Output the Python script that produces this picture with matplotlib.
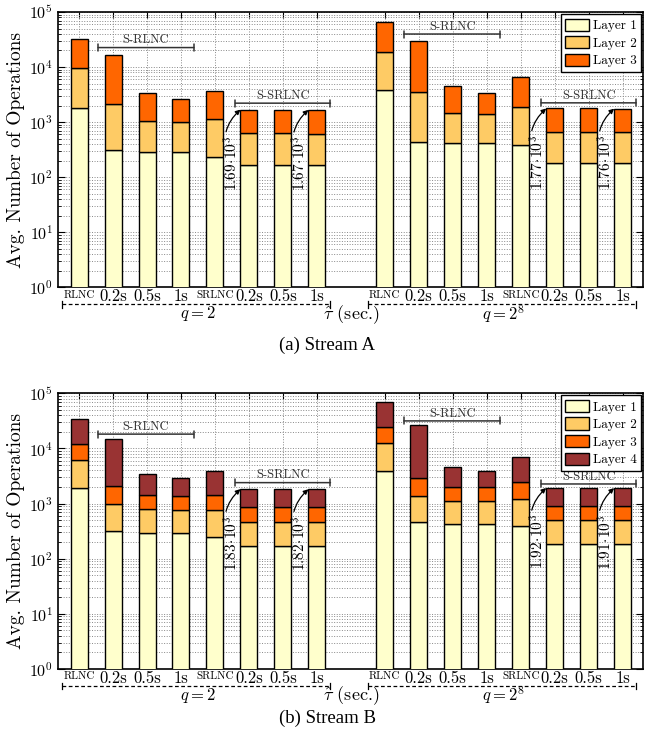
import numpy as np
import matplotlib
matplotlib.use('Agg')
import matplotlib.pyplot as plt
import matplotlib.transforms as mtransforms
from matplotlib.patches import Patch
from matplotlib.ticker import LogLocator, NullFormatter

plt.rcParams['font.family'] = 'cmr10'
plt.rcParams['mathtext.fontset'] = 'cm'
plt.rcParams['axes.formatter.use_mathtext'] = True

tick_labels = ['RLNC', '0.2s', '0.5s', '1s', 'SRLNC', '0.2s', '0.5s', '1s']
layer_names = ['Layer 1', 'Layer 2', 'Layer 3', 'Layer 4']
layer_colors = ['#ffffcc', '#fecb65', '#ff6600', '#993333']

# Stream A, operations per layer (stacked), q = 2
a_q2_l1 = [1840, 312, 291, 283, 236, 169, 169, 167]
a_q2_l2 = [7660, 1798, 749, 717, 884, 455, 455, 443]
a_q2_l3 = [23500, 14390, 2300, 1600, 2610, 1066, 1056, 1060]
# Stream A, q = 2^8
a_q8_l1 = [3790, 441, 417, 417, 379, 179, 179, 179]
a_q8_l2 = [14910, 3139, 1018, 983, 1486, 471, 471, 471]
a_q8_l3 = [47300, 26320, 3105, 1940, 4825, 1120, 1120, 1110]

# Stream B, q = 2
b_q2_l1 = [1920, 314, 297, 293, 244, 173, 173, 172]
b_q2_l2 = [4170, 656, 501, 483, 511, 297, 297, 298]
b_q2_l3 = [5810, 1090, 615, 617, 658, 385, 385, 385]
b_q2_l4 = [22300, 12590, 1987, 1477, 2487, 975, 975, 965]
# Stream B, q = 2^8
b_q8_l1 = [3900, 457, 427, 427, 392, 185, 185, 185]
b_q8_l2 = [8500, 898, 703, 673, 838, 320, 320, 320]
b_q8_l3 = [11800, 1595, 870, 870, 1200, 413, 413, 413]
b_q8_l4 = [44500, 23350, 2610, 1930, 4470, 1002, 1002, 992]

pos_q2 = np.arange(8)
pos_q8 = np.arange(8) + 9
bar_w = 0.5

# bracket spans per group
brackets_q2 = {'S-RLNC': (0.56, 3.38), 'S-SRLNC': (4.6, 7.4)}
brackets_q8 = {'S-RLNC': (9.56, 12.4), 'S-SRLNC': (13.6, 16.4)}


def draw_group(ax, pos, layers):
    bottom = np.zeros(len(pos))
    for i, vals in enumerate(layers):
        vals = np.array(vals, dtype=float)
        ax.bar(pos, vals, bar_w, bottom=bottom, color=layer_colors[i],
               edgecolor='black', linewidth=1.0, zorder=3)
        bottom = bottom + vals
    return bottom


def draw_panel(ax, q2_layers, q8_layers, bracket_y):
    tot_q2 = draw_group(ax, pos_q2, q2_layers)
    tot_q8 = draw_group(ax, pos_q8, q8_layers)
    n = len(q2_layers)

    ax.set_yscale('log')
    ax.set_ylim(1, 1e5)
    ax.set_xlim(-0.62, 16.6)
    ax.set_axisbelow(True)

    ax.set_xticks(np.concatenate([pos_q2, pos_q8]))
    ax.set_xticklabels([])
    ax.yaxis.set_major_locator(LogLocator(base=10, numticks=10))
    ax.yaxis.set_minor_locator(LogLocator(base=10, subs=np.arange(2, 10), numticks=20))
    ax.yaxis.set_minor_formatter(NullFormatter())
    ax.tick_params(axis='both', which='both', direction='in', top=True, right=True)
    ax.tick_params(axis='x', which='major', length=4, bottom=False)
    ax.tick_params(axis='y', which='major', length=5, labelsize=11.5)
    ax.tick_params(axis='y', which='minor', length=2.5)
    ax.grid(True, which='major', axis='both', color='#888888', ls=':', lw=0.7)
    ax.grid(True, which='minor', axis='y', color='#888888', ls=':', lw=0.7)
    for s in ax.spines.values():
        s.set_linewidth(1.2)

    ax.set_ylabel('Avg. Number of Operations', fontsize=14)
    ax.yaxis.set_label_coords(-0.056, 0.5)

    trans = mtransforms.blended_transform_factory(ax.transData, ax.transAxes)
    for pos in (pos_q2, pos_q8):
        for x, lab in zip(pos, tick_labels):
            if lab in ('RLNC', 'SRLNC'):
                ax.text(x, -0.027, lab, transform=trans, ha='center', va='center', fontsize=8)
            else:
                ax.text(x, -0.032, lab, transform=trans, ha='center', va='center', fontsize=12)

    # dashed group lines
    for x0, x1 in ((-0.5, 7.4), (8.5, 16.4)):
        ax.plot([x0, x1], [-0.062, -0.062], transform=trans, color='black',
                ls=(0, (3, 2)), lw=0.9, clip_on=False)
        for xe in (x0, x1):
            ax.plot([xe, xe], [-0.074, -0.05], transform=trans, color='black',
                    lw=0.9, clip_on=False)
    ax.text(3.5, -0.096, '$q = 2$', transform=trans, ha='center', va='center', fontsize=12)
    ax.text(12.5, -0.096, '$q = 2^8$', transform=trans, ha='center', va='center', fontsize=12)
    ax.text(8.0, -0.098, r'$\hat{\tau}$ (sec.)', transform=trans, ha='center', va='center', fontsize=13)

    # S-RLNC / S-SRLNC brackets
    for br, ys in ((brackets_q2, bracket_y[0]), (brackets_q8, bracket_y[1])):
        for (name, (x0, x1)), y in zip(br.items(), ys):
            ax.annotate('', xy=(x1, y), xytext=(x0, y),
                        arrowprops=dict(arrowstyle='|-|, widthA=0.25, widthB=0.25',
                                        color='#333333', lw=1.1, shrinkA=0, shrinkB=0))
            ax.text((x0 + x1) / 2, y * 1.05, name, ha='center', va='bottom',
                    fontsize=9, color='#333333')

    # value annotations on S-SRLNC 0.2s and 1s bars
    for pos, tot in ((pos_q2, tot_q2), (pos_q8, tot_q8)):
        for k in (5, 7):
            x = pos[k]
            label = r'$%.2f\!\cdot\!10^3$' % (tot[k] / 1000.0)
            ax.annotate(label, xy=(x - bar_w / 2, tot[k]), xytext=(x - 0.5, tot[k] / 9.5),
                        rotation=90, ha='center', va='center', fontsize=11,
                        arrowprops=dict(arrowstyle='-|>', color='black', lw=0.9,
                                        mutation_scale=7, shrinkA=1, shrinkB=0,
                                        connectionstyle='arc3,rad=-0.4'),
                        zorder=5)

    handles = [Patch(facecolor=layer_colors[i], edgecolor='black', linewidth=1.0,
                     label=layer_names[i]) for i in range(n)]
    leg = ax.legend(handles=handles, loc='upper right', fontsize=9.5, fancybox=False,
                    edgecolor='black', framealpha=1, borderaxespad=0.15,
                    handlelength=1.75, handleheight=1.05, labelspacing=0.3,
                    handletextpad=0.3, borderpad=0.35)
    leg.get_frame().set_linewidth(1.0)
    leg.set_zorder(6)


fig = plt.figure(figsize=(6.51, 7.36), dpi=100)
ax_a = fig.add_axes([0.0891, 0.6096, 0.8986, 0.3741])
ax_b = fig.add_axes([0.0891, 0.0910, 0.8986, 0.3746])

draw_panel(ax_a, [a_q2_l1, a_q2_l2, a_q2_l3], [a_q8_l1, a_q8_l2, a_q8_l3],
           bracket_y=((22600, 2210), (39800, 2240)))
draw_panel(ax_b, [b_q2_l1, b_q2_l2, b_q2_l3, b_q2_l4], [b_q8_l1, b_q8_l2, b_q8_l3, b_q8_l4],
           bracket_y=((18200, 2400), (31600, 2270)))

fig.text(0.503, 0.531, '(a) Stream A', ha='center', va='center',
         family='Liberation Serif', fontsize=13.5)
fig.text(0.503, 0.0245, '(b) Stream B', ha='center', va='center',
         family='Liberation Serif', fontsize=13.5)

fig.savefig('out.png', dpi=100)
